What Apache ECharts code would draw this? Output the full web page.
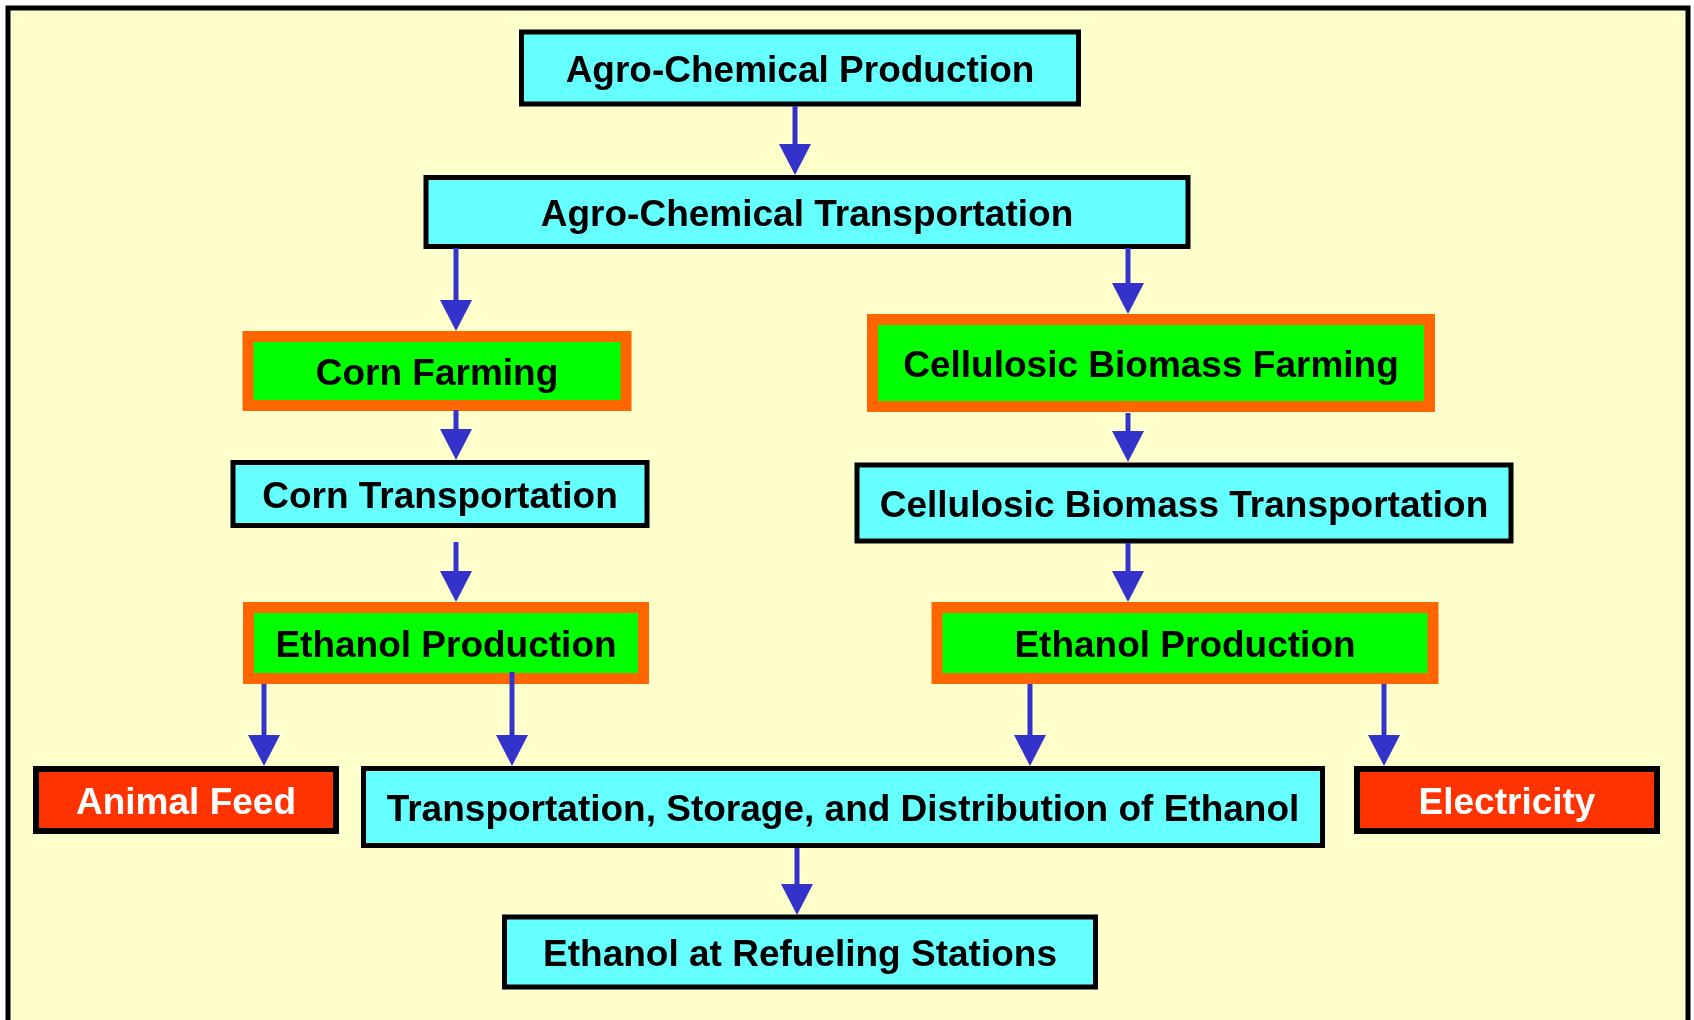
<!DOCTYPE html>
<html style="height: 100%">
<head>
    <meta charset="utf-8">
</head>
<body style="height: 100%; margin: 0">
<div id="container" style="height: 100%"></div>
<script type="text/javascript" src="https://cdn.jsdelivr.net/npm/echarts@6/dist/echarts.min.js"></script>
<script type="text/javascript">
    var dom = document.getElementById("container");
    var myChart = echarts.init(dom);
    var option;

    // steps of the ethanol pathway
    var steps = [
        'Agro-Chemical Production',
        'Agro-Chemical Transportation',
        'Corn Farming',
        'Cellulosic Biomass Farming',
        'Corn Transportation',
        'Cellulosic Biomass Transportation',
        'Ethanol Production',
        'Ethanol Production',
        'Animal Feed',
        'Transportation, Storage, and Distribution of Ethanol',
        'Electricity',
        'Ethanol at Refueling Stations'
    ];
    // plain = cyan step, farm = green/orange step, coproduct = red
    var stepKind = ['plain', 'plain', 'farm', 'farm', 'plain', 'plain',
        'farm', 'farm', 'coproduct', 'plain', 'coproduct', 'plain'];

    // box layout on a 1694 x 1020 plane (centre x, centre y, width, height)
    var stepX = [800, 807, 437, 1151, 440, 1184, 446, 1185, 186, 843, 1507, 800];
    var stepY = [68, 212, 371, 363, 494, 503, 643, 643, 800, 807, 800, 952];
    var stepW = [562, 767, 389, 568, 419, 659, 406, 507, 306, 964, 306, 596];
    var stepH = [77, 74, 80, 98, 68, 81, 82, 82, 68, 82, 68, 75];

    // arrows: x, start y, tip y
    var arrowX = [795, 456, 1128, 456, 1128, 456, 1128, 264, 512, 1030, 1384, 797];
    var arrowFrom = [106, 248, 248, 410, 413, 542, 543, 684, 672, 684, 684, 848];
    var arrowTo = [175, 331, 314, 460, 462, 602, 602, 766, 766, 766, 766, 915];

    var kindStyle = {
        plain: {fill: '#66FFFF', stroke: '#000000', lineWidth: 5, text: '#000000'},
        farm: {fill: '#00FF00', stroke: '#FF6600', lineWidth: 11, text: '#000000'},
        coproduct: {fill: '#FF3300', stroke: '#000000', lineWidth: 6, text: '#FFFFFF'}
    };

    var boxData = steps.map(function (name, i) {
        return [stepX[i], stepY[i], stepW[i], stepH[i]];
    });
    var arrowData = arrowX.map(function (x, i) {
        return [x, arrowFrom[i], arrowTo[i]];
    });

    function renderBox(params, api) {
        var cx = api.value(0), cy = api.value(1), w = api.value(2), h = api.value(3);
        var p0 = api.coord([cx - w / 2, cy - h / 2]);
        var p1 = api.coord([cx + w / 2, cy + h / 2]);
        var x = Math.min(p0[0], p1[0]), y = Math.min(p0[1], p1[1]);
        var bw = Math.abs(p1[0] - p0[0]), bh = Math.abs(p1[1] - p0[1]);
        var s = kindStyle[stepKind[params.dataIndex]];
        var lw = s.lineWidth;
        return {
            type: 'group',
            children: [{
                type: 'rect',
                shape: {x: x + lw / 2, y: y + lw / 2, width: bw - lw, height: bh - lw},
                style: {fill: s.fill, stroke: s.stroke, lineWidth: lw}
            }, {
                type: 'text',
                style: {
                    text: steps[params.dataIndex],
                    x: x + bw / 2,
                    y: y + bh / 2 + 4,
                    align: 'center',
                    verticalAlign: 'middle',
                    fill: s.text,
                    fontSize: 37,
                    fontWeight: 'bold',
                    fontFamily: '"Liberation Sans", Arial, sans-serif'
                }
            }]
        };
    }

    function renderArrow(params, api) {
        var a = api.coord([api.value(0), api.value(1)]);
        var b = api.coord([api.value(0), api.value(2)]);
        var head = 31, half = 16;
        return {
            type: 'group',
            children: [{
                type: 'line',
                shape: {x1: a[0], y1: a[1], x2: b[0], y2: b[1] - head + 2},
                style: {stroke: '#3333CC', lineWidth: 5}
            }, {
                type: 'polygon',
                shape: {points: [[b[0] - half, b[1] - head], [b[0] + half, b[1] - head], [b[0], b[1]]]},
                style: {fill: '#3333CC'}
            }]
        };
    }

    option = {
        backgroundColor: '#FFFFFF',
        animation: false,
        graphic: [{
            type: 'rect',
            z: 0,
            shape: {x: 8, y: 8, width: 1680, height: 1100},
            style: {fill: '#FFFFCC', stroke: '#000000', lineWidth: 5}
        }],
        grid: {left: 0, right: 0, top: 0, bottom: 0},
        xAxis: {type: 'value', min: 0, max: 1694, show: false},
        yAxis: {type: 'value', min: 0, max: 1020, inverse: true, show: false},
        series: [{
            type: 'custom',
            z: 3,
            clip: false,
            renderItem: renderBox,
            data: boxData
        }, {
            type: 'custom',
            z: 4,
            clip: false,
            renderItem: renderArrow,
            data: arrowData
        }]
    };

    if (option && typeof option === "object") {
        myChart.setOption(option, true);
    }
</script>
</body>
</html>
